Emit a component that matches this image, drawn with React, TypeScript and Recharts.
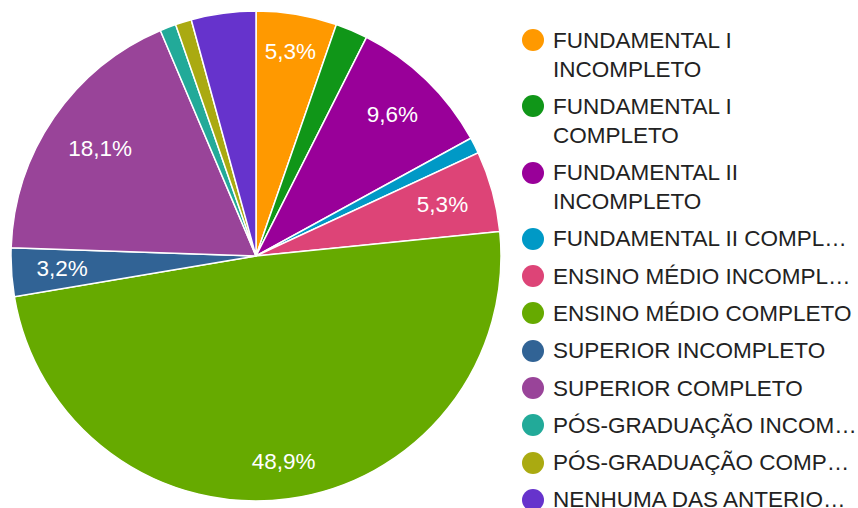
import { PieChart, Pie, Cell, Legend } from 'recharts';

const categories = [
  'FUNDAMENTAL I INCOMPLETO',
  'FUNDAMENTAL I COMPLETO',
  'FUNDAMENTAL II INCOMPLETO',
  'FUNDAMENTAL II COMPLETO',
  'ENSINO MÉDIO INCOMPLETO',
  'ENSINO MÉDIO COMPLETO',
  'SUPERIOR INCOMPLETO',
  'SUPERIOR COMPLETO',
  'PÓS-GRADUAÇÃO INCOMPLETO',
  'PÓS-GRADUAÇÃO COMPLETO',
  'NENHUMA DAS ANTERIORES',
];

// respostas (94 no total)
const counts = [5, 2, 9, 1, 5, 46, 3, 17, 1, 1, 4];

// legend text as shown (wrapped / truncated like the original)
const legendLines = [
  ['FUNDAMENTAL I', 'INCOMPLETO'],
  ['FUNDAMENTAL I', 'COMPLETO'],
  ['FUNDAMENTAL II', 'INCOMPLETO'],
  ['FUNDAMENTAL II COMPL…'],
  ['ENSINO MÉDIO INCOMPL…'],
  ['ENSINO MÉDIO COMPLETO'],
  ['SUPERIOR INCOMPLETO'],
  ['SUPERIOR COMPLETO'],
  ['PÓS-GRADUAÇÃO INCOM…'],
  ['PÓS-GRADUAÇÃO COMP…'],
  ['NENHUMA DAS ANTERIO…'],
];

// slices whose label is hidden in the original
const hiddenLabels = ['NENHUMA DAS ANTERIORES'];

const colors = ['#ff9900', '#109618', '#990099', '#0099c6', '#dd4477', '#66aa00', '#316395', '#994499', '#22aa99', '#aaaa11', '#6633cc'];

const data = categories.map((name, i) => ({ name, value: counts[i] }));

const FONT = "Arial, 'Liberation Sans', sans-serif";
const FS = 22.5;
const RAD = Math.PI / 180;

function textWidth(s: string) {
  let w = 0;
  for (const ch of s) w += ch === ',' ? 0.278 : ch === '%' ? 0.889 : 0.556;
  return w * FS;
}

// google-ish placement: push the label box out until its far corner hits ~0.9R
function renderLabel(props: any) {
  const { cx, cy, midAngle, outerRadius, percent, name } = props;
  if (percent < 0.03 || hiddenLabels.includes(name)) return null;
  const txt = (percent * 100).toFixed(1).replace('.', ',') + '%';
  const c = Math.cos(-midAngle * RAD);
  const s = Math.sin(-midAngle * RAD);
  const r = outerRadius * 0.9 - (textWidth(txt) / 2) * Math.abs(c) - 9 * Math.abs(s);
  return (
    <text x={cx + r * c} y={cy + r * s} fill="#ffffff" textAnchor="middle" dominantBaseline="central" fontSize={FS} fontFamily={FONT}>
      {txt}
    </text>
  );
}

function LegendContent() {
  return (
    <div style={{ fontFamily: FONT, fontSize: FS, color: '#222222' }}>
      {legendLines.map((lines, i) => (
        <div key={i} style={{ display: 'flex', alignItems: 'flex-start', marginBottom: 8.3 }}>
          <div style={{ width: 22, height: 22, borderRadius: 11, background: colors[i], marginTop: 3.5, marginRight: 9, flex: 'none' }} />
          <div style={{ lineHeight: '29px', whiteSpace: 'nowrap' }}>
            {lines.map((l, j) => (
              <div key={j}>{l}</div>
            ))}
          </div>
        </div>
      ))}
    </div>
  );
}

export default function App() {
  return (
    <div style={{ position: 'absolute', left: 0, top: 0, width: 858, height: 508, background: '#fff', overflow: 'hidden' }}>
      <PieChart width={858} height={508} margin={{ top: 0, right: 0, bottom: 0, left: 0 }}>
        <Pie
          data={data}
          dataKey="value"
          nameKey="name"
          cx={256}
          cy={256}
          outerRadius={245}
          startAngle={90}
          endAngle={-270}
          stroke="#ffffff"
          strokeWidth={1.5}
          label={renderLabel}
          labelLine={false}
          isAnimationActive={false}
        >
          {data.map((d, i) => (
            <Cell key={d.name} fill={colors[i]} />
          ))}
        </Pie>
        <Legend
          layout="vertical"
          content={<LegendContent />}
          wrapperStyle={{ left: 522, top: 25.5, width: 336, bottom: 'auto', right: 'auto' }}
        />
      </PieChart>
    </div>
  );
}
